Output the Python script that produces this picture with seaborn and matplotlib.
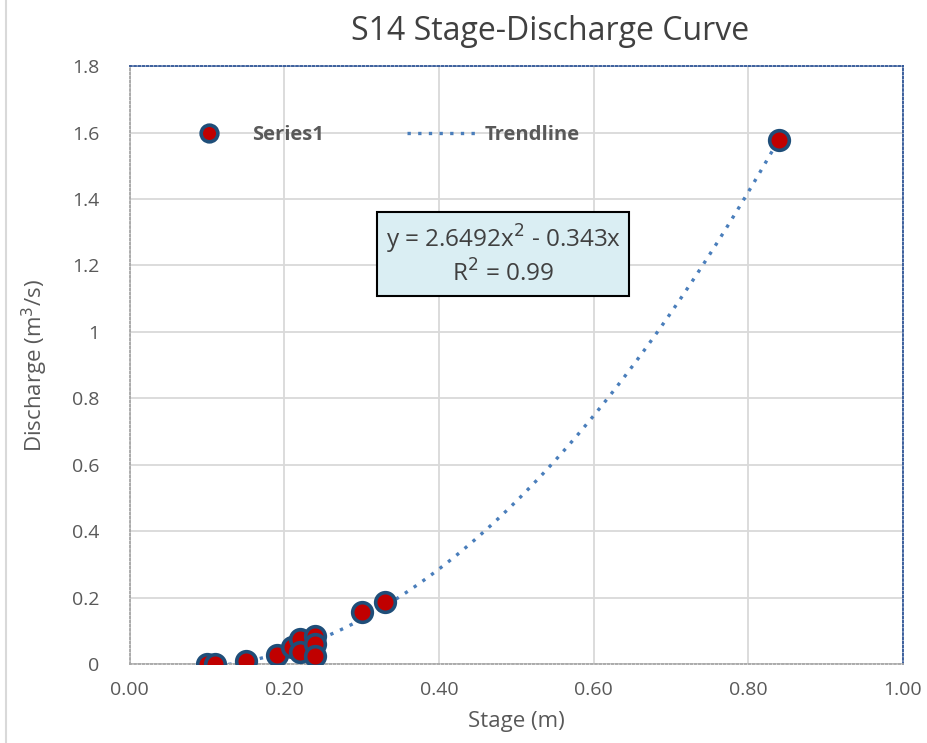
import numpy as np
import pandas as pd
import matplotlib
matplotlib.use('Agg')
import matplotlib.pyplot as plt
import seaborn as sb
from matplotlib.lines import Line2D

# Data
stage = [0.10, 0.11, 0.15, 0.19, 0.21, 0.22, 0.22, 0.24, 0.24, 0.24, 0.30, 0.33, 0.84]
discharge = [0.002, 0.002, 0.009, 0.027, 0.052, 0.075, 0.037, 0.084, 0.062, 0.024, 0.157, 0.187, 1.577]

# Trendline coefficients as printed on the chart
coef_a = 2.6492
coef_b = -0.343

xticks = [0.0, 0.2, 0.4, 0.6, 0.8, 1.0]
yticks = [0, 0.2, 0.4, 0.6, 0.8, 1, 1.2, 1.4, 1.6, 1.8]

df = pd.DataFrame({'Stage': stage, 'Discharge': discharge})
xs = np.linspace(min(stage), max(stage), 200)
trend = pd.DataFrame({'Stage': xs, 'Discharge': coef_a * xs**2 + coef_b * xs})

sb.set_style('white')
plt.rcParams['font.family'] = ['Open Sans', 'DejaVu Sans']

fig = plt.figure(figsize=(9.27, 7.43), dpi=100)
ax = fig.add_axes([0.140, 0.106, 0.834, 0.805])

ax.grid(True, color='#d9d9d9', linewidth=1.3)
ax.set_axisbelow(True)

sb.lineplot(data=trend, x='Stage', y='Discharge', ax=ax, color='#4a7ebb',
            linestyle=(0, (1, 2.2)), linewidth=2.4, zorder=2)
sb.scatterplot(data=df, x='Stage', y='Discharge', ax=ax, color='#c00000',
               edgecolor='#1f4e79', linewidth=2.6, s=200, zorder=3)

ax.set_xlim(0, 1)
ax.set_ylim(0, 1.8)
ax.set_xticks(xticks)
ax.set_xticklabels([f'{t:.2f}' for t in xticks])
ax.set_yticks(yticks)
ax.set_yticklabels([f'{t:g}' for t in yticks])
ax.tick_params(axis='x', labelsize=14, colors='#595959', length=0, pad=12)
ax.tick_params(axis='y', labelsize=14, colors='#595959', length=0, pad=22)

for side in ['top', 'right']:
    ax.spines[side].set_color('#2f5597')
    ax.spines[side].set_linestyle((0, (1, 1.3)))
    ax.spines[side].set_linewidth(1.3)
for side in ['left', 'bottom']:
    ax.spines[side].set_color('#a6a6a6')
    ax.spines[side].set_linestyle((0, (1, 1.3)))
    ax.spines[side].set_linewidth(1.3)

fig.text(0.593, 0.958, 'S14 Stage-Discharge Curve', ha='center', va='center',
         fontsize=23, color='#404040')
ax.set_xlabel('Stage (m)', fontsize=16, color='#595959', labelpad=9)
ax.set_ylabel('Discharge (m$^3$/s)', fontsize=16, color='#595959', labelpad=16)

ax.text(0.483, 1.231, 'y = 2.6492x$^2$ - 0.343x\nR$^2$ = 0.99', ha='center', va='center',
        fontsize=17.5, color='#404040', linespacing=1.2,
        bbox=dict(boxstyle='square,pad=0.35', facecolor='#daeef3', edgecolor='black', linewidth=1.5))

handles = [
    Line2D([], [], marker='o', linestyle='none', markersize=12, markerfacecolor='#c00000',
           markeredgecolor='#1f4e79', markeredgewidth=2.6),
    Line2D([], [], color='#4a7ebb', linestyle=(0, (1, 2.2)), linewidth=2.4),
]
leg = ax.legend(handles, ['Series1', 'Trendline'], loc='center left', bbox_to_anchor=(0.035, 0.885),
                ncol=2, frameon=False, columnspacing=4.1, handlelength=3.4, handletextpad=0.45,
                prop={'weight': 'bold', 'size': 14.5})
for t in leg.get_texts():
    t.set_color('#595959')

fig.add_artist(Line2D([0.006, 0.006], [0, 1], color='#d9d9d9', linewidth=1.5))

fig.savefig('out.png', dpi=100)
